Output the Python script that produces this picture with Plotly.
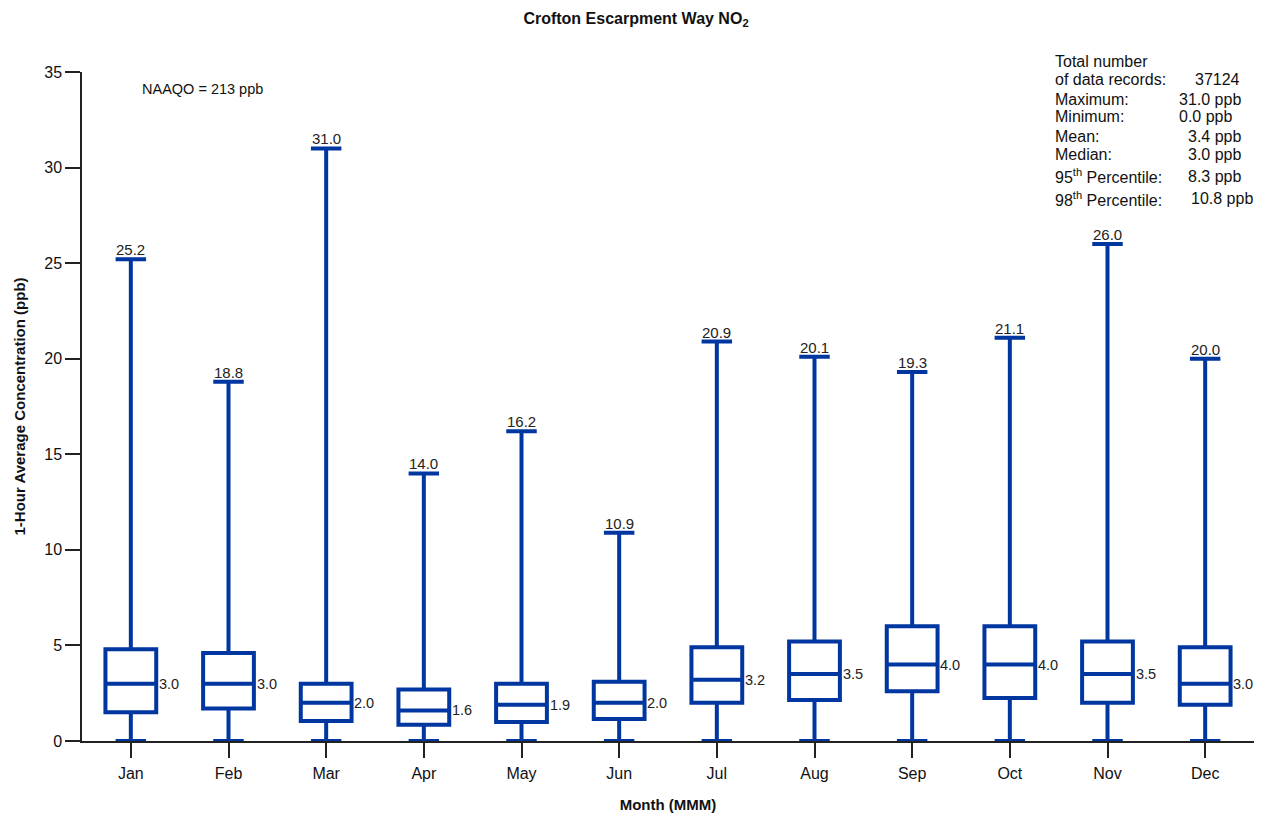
import plotly.graph_objects as go

months = ["Jan", "Feb", "Mar", "Apr", "May", "Jun", "Jul", "Aug", "Sep", "Oct", "Nov", "Dec"]
mins = [0.0] * 12
q1 = [1.5, 1.7, 1.05, 0.85, 1.0, 1.15, 2.0, 2.15, 2.6, 2.25, 2.0, 1.9]
medians = [3.0, 3.0, 2.0, 1.6, 1.9, 2.0, 3.2, 3.5, 4.0, 4.0, 3.5, 3.0]
q3 = [4.8, 4.6, 3.0, 2.7, 3.0, 3.1, 4.9, 5.2, 6.0, 6.0, 5.2, 4.9]
maxs = [25.2, 18.8, 31.0, 14.0, 16.2, 10.9, 20.9, 20.1, 19.3, 21.1, 26.0, 20.0]

stat_labels = ["Total number", "of data records:", "Maximum:", "Minimum:", "Mean:", "Median:",
               "95<sup>th</sup> Percentile:", "98<sup>th</sup> Percentile:"]
stat_values = ["", "37124", "31.0 ppb", "0.0 ppb", "3.4 ppb", "3.0 ppb", "8.3 ppb", "10.8 ppb"]

FONT = "Liberation Sans, Arial, sans-serif"
BLUE = "#0036a0"
OFF = 8  # page body margin
W, H = 1254, 805
# plot area in screen pixels: left 82, right 1254, top 72, bottom 741
L = 82 - OFF
T = 72 - OFF
R = W - (1254 - OFF)
B = H - (741 - OFF)

fig = go.Figure()
fig.add_trace(go.Box(
    x=months, q1=q1, median=medians, q3=q3, lowerfence=mins, upperfence=maxs,
    boxpoints=False, line=dict(color=BLUE, width=4), fillcolor="white",
    width=0.52, whiskerwidth=0.6, hoverinfo="skip", showlegend=False,
))

def px_x(p):
    return (p - OFF - L) / (W - L - R)

def px_y(p):
    return (H - B - (p - OFF)) / (H - B - T)

ann = []
for m, mx, md in zip(months, maxs, medians):
    ann.append(dict(x=m, y=mx, xref="x", yref="y", text=f"{mx:.1f}", showarrow=False,
                    xanchor="center", yanchor="bottom", yshift=-1,
                    font=dict(family=FONT, size=15, color="#222")))
    ann.append(dict(x=m, y=md, xref="x", yref="y", text=f"{md:.1f}", showarrow=False,
                    xanchor="left", yanchor="middle", xshift=26,
                    font=dict(family=FONT, size=14.5, color="#222")))

ann.append(dict(x=px_x(140), y=px_y(89), xref="paper", yref="paper", text="NAAQO = 213 ppb",
                showarrow=False, xanchor="left", yanchor="middle",
                font=dict(family=FONT, size=14.5, color="#111")))

line_y = [61, 80, 99, 117, 136, 155, 176, 199]
val_x = [0, 1193, 1177, 1177, 1186, 1186, 1186, 1189]
for lab, val, py, vx in zip(stat_labels, stat_values, line_y, val_x):
    ann.append(dict(x=px_x(1053), y=px_y(py), xref="paper", yref="paper", text=lab,
                    showarrow=False, xanchor="left", yanchor="middle",
                    font=dict(family=FONT, size=16, color="#111")))
    if val:
        ann.append(dict(x=px_x(vx), y=px_y(py), xref="paper", yref="paper", text=val,
                        showarrow=False, xanchor="left", yanchor="middle",
                        font=dict(family=FONT, size=16, color="#111")))

fig.update_layout(
    template="none",
    width=W, height=H,
    margin=dict(l=L, r=R, t=T, b=B, pad=0),
    paper_bgcolor="white", plot_bgcolor="white",
    title=dict(text="<b>Crofton Escarpment Way NO<sub>2</sub></b>", x=(636 - OFF) / W,
               xanchor="center", xref="container", y=1 - (18 - OFF) / H, yanchor="middle",
               font=dict(family=FONT, size=16, color="#111")),
    annotations=ann,
    xaxis=dict(range=[-0.5, 11.5], showline=True, linecolor="#222", linewidth=1.5,
               ticks="outside", ticklen=15, tickcolor="#222", tickwidth=1.5,
               showgrid=False, zeroline=False, automargin=False, ticklabelstandoff=2,
               tickfont=dict(family=FONT, size=16, color="#111"),
               title=dict(text="<b>Month (MMM)</b>", standoff=24,
                          font=dict(family=FONT, size=15, color="#111"))),
    yaxis=dict(range=[0, 35], dtick=5, showline=True, linecolor="#222", linewidth=1.5,
               ticks="outside", ticklen=15, tickcolor="#222", tickwidth=1.5,
               showgrid=False, zeroline=False, automargin=False,
               tickfont=dict(family=FONT, size=16, color="#111"),
               title=dict(text="<b>1-Hour Average Concentration (ppb)</b>", standoff=15,
                          font=dict(family=FONT, size=15, color="#111"))),
)

fig.write_html("out.html")
